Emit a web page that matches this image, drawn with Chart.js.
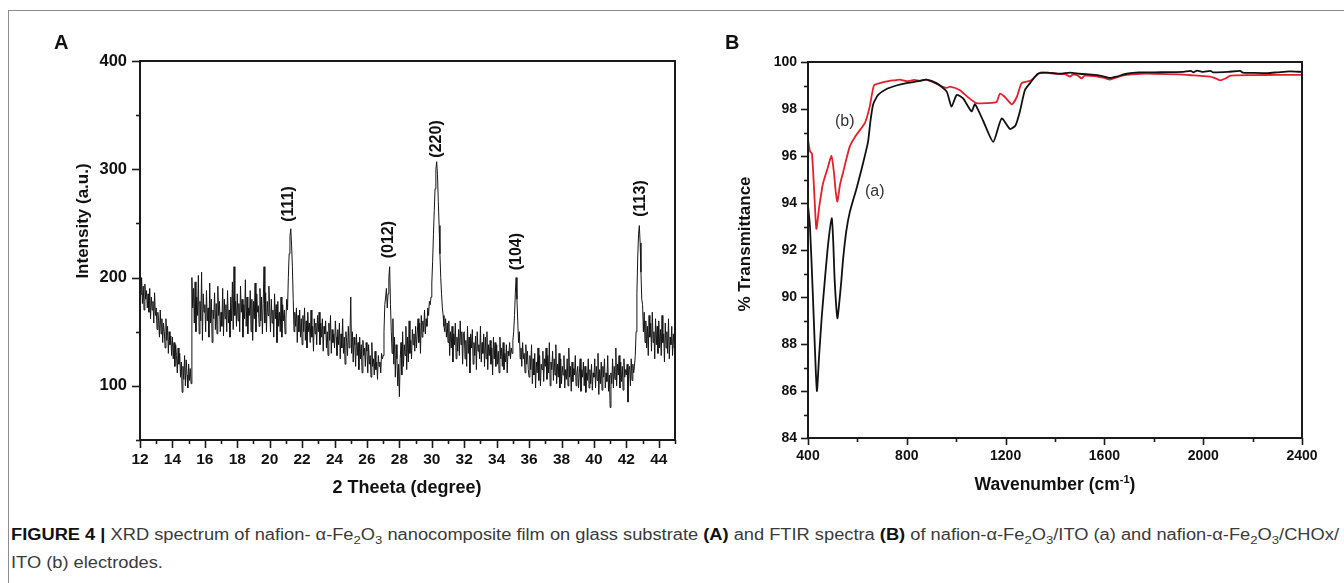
<!DOCTYPE html>
<html>
<head>
<meta charset="utf-8">
<script src="https://cdn.jsdelivr.net/npm/chart.js@4.4.0/dist/chart.umd.min.js"></script>
<style>
  html, body { margin: 0; padding: 0; background: #fff; }
  body { width: 1344px; height: 583px; position: relative; overflow: hidden; font-family: 'Liberation Sans', Arial, sans-serif; }
  .frame { position: absolute; left: 8px; top: 10px; width: 1400px; height: 600px; border-left: 1.5px solid #8c8c8c; border-top: 1.5px solid #8c8c8c; }
  canvas { position: absolute; top: 0; }
  #xrd { left: 0; }
  #ftir { left: 700px; }
  .lbl { position: absolute; font-weight: bold; color: #111; white-space: nowrap; }
  .rot { transform: translate(-50%, -50%) rotate(-90deg); }
  .ctr { transform: translate(-50%, -50%); }
  .caption { position: absolute; left: 11px; top: 521px; color: #3a3a3a; font-family: 'Liberation Sans', Arial, sans-serif; font-size: 16px; line-height: 28px; white-space: nowrap; transform-origin: 0 0; }
  .caption b { color: #111; }
  .caption sub { font-size: 0.72em; line-height: 0; }
</style>
</head>
<body>
<div class="frame"></div>
<canvas id="xrd" width="700" height="500"></canvas>
<canvas id="ftir" width="644" height="500"></canvas>

<div class="lbl" style="left:54px; top:31px; font-size:20px;">A</div>
<div class="lbl" style="left:725px; top:31px; font-size:20px;">B</div>

<div class="lbl rot" style="left:83px; top:221px; font-size:17px;">Intensity (a.u.)</div>
<div class="lbl ctr" style="left:407px; top:487px; font-size:18px;">2 Theeta (degree)</div>
<div class="lbl rot" style="left:745px; top:244px; font-size:17px;">% Transmittance</div>
<div class="lbl ctr" style="left:1055px; top:484px; font-size:17.5px;">Wavenumber (cm<sup style="font-size:11px;">-1</sup>)</div>

<div class="caption" id="caption">
  <span id="capLine1"><b>FIGURE 4 |</b> XRD spectrum of nafion- α-Fe<sub>2</sub>O<sub>3</sub> nanocomposite film on glass substrate <b>(A)</b> and FTIR spectra <b>(B)</b> of nafion-α-Fe<sub>2</sub>O<sub>3</sub>/ITO (a) and nafion-α-Fe<sub>2</sub>O<sub>3</sub>/CHOx/</span><br>
  ITO (b) electrodes.
</div>

<script>
// XRD pattern, 2θ from 12 to 45 in 0.05 degree steps (one row per degree)
var xrdStart = 12;
var xrdStep = 0.05;
var xrdIntensity = [
  198,184,200,176,192,170,194,180,188,172,185,168,190,162,182,170,178,158,186,165,
  172,152,168,160,145,170,148,162,140,158,150,135,162,142,155,130,150,138,146,128,
  145,125,140,118,138,128,112,135,120,130,108,122,94,118,106,128,100,124,110,98,
  120,105,116,102,200,172,190,158,196,150,182,165,202,148,178,160,205,142,185,168,
  175,150,188,160,172,145,195,158,180,140,170,162,186,152,176,148,192,165,178,150,
  168,155,190,146,180,162,175,150,188,158,170,145,182,160,196,152,210,165,178,155,
  185,160,176,150,192,168,180,145,175,162,198,155,182,148,172,165,188,150,180,142,
  178,162,195,150,185,168,174,155,190,160,182,148,176,210,158,186,150,178,165,192,
  172,150,180,158,170,145,185,162,175,140,178,155,168,150,182,145,175,160,170,148,
  162,180,170,200,222,238,245,230,210,180,150,168,155,172,140,165,150,170,145,162,
  138,165,150,172,142,160,135,168,150,158,140,170,145,155,132,162,148,158,138,165,
  150,168,138,158,145,162,132,155,148,160,135,150,128,158,142,165,130,152,140,148,
  135,160,145,128,152,138,158,125,148,135,162,130,145,120,150,140,128,155,135,145,
  182,130,150,122,145,138,118,148,128,140,115,145,125,138,112,142,128,135,118,140,
  132,112,138,120,128,108,140,118,125,110,132,115,122,106,128,118,122,112,130,125,
  128,150,175,182,190,172,185,200,210,175,150,130,162,120,145,108,138,125,100,120,
  90,125,140,110,150,118,138,128,155,115,145,122,160,130,142,125,152,138,148,132,
  155,135,148,162,140,158,130,165,145,160,150,170,148,162,155,172,165,178,175,182,
  195,215,240,262,282,300,307,295,270,248,222,200,185,172,165,155,150,162,145,158,
  140,160,128,150,135,155,122,148,138,158,125,145,132,152,128,160,138,150,120,148,
  150,125,142,118,155,130,145,112,148,135,152,120,140,128,146,115,150,132,138,125,
  155,122,140,130,148,118,145,125,150,115,138,128,142,120,135,110,145,125,140,118,
  138,120,132,112,145,125,135,118,140,115,130,122,138,112,132,128,140,125,135,130,
  142,150,165,185,200,180,160,140,150,125,135,118,140,125,130,112,138,120,132,115,
  108,128,115,138,102,125,110,130,98,122,112,135,105,128,100,120,115,132,104,125,
  118,135,106,128,112,140,100,122,115,132,105,125,110,138,102,120,108,130,98,125,
  102,118,110,128,98,115,106,125,100,135,108,118,95,122,104,116,110,128,100,112,
  118,98,112,125,95,115,108,122,100,118,94,112,105,125,98,115,102,120,96,112,
  108,125,98,118,105,130,92,115,102,122,96,118,108,125,98,112,104,128,95,110,
  80,112,102,125,98,118,106,135,100,120,110,128,98,122,104,118,96,125,108,115,
  110,120,85,115,118,100,125,105,120,112,118,128,150,185,218,240,248,232,205,180,
  175,150,168,140,160,135,155,128,165,145,158,132,168,140,150,125,162,138,155,130,
  160,135,152,128,165,140,148,122,158,135,150,130,162,125,145,138,155,128,148,135,
  142
];
var xrdPeakLabels = ['(111)', '(012)', '(220)', '(104)', '(113)'];
var xrdPeakX = [21.15, 27.33, 30.31, 35.25, 42.86];
var xrdPeakY = [268, 235, 328, 224, 273];

// FTIR, curve (a) nafion-Fe2O3/ITO
var ftirWaveA = [400, 408, 420, 428, 436, 445, 456, 468, 482, 496, 502, 508, 519, 527, 535, 542, 555, 569, 596, 616, 630, 643, 653, 664, 684, 718, 758, 799, 853, 880, 920, 961, 981, 1002, 1028, 1062, 1076, 1109, 1150, 1184, 1218, 1240, 1258, 1278, 1299, 1331, 1370, 1420, 1461, 1500, 1560, 1600, 1623, 1650, 1690, 1740, 1800, 1860, 1920, 1950, 1960, 1975, 2000, 2030, 2040, 2100, 2150, 2160, 2200, 2260, 2300, 2350, 2400];
var ftirTransA = [93.9, 93.0, 90.0, 87.8, 86.0, 87.5, 89.2, 90.7, 92.3, 93.35, 92.4, 90.7, 89.1, 89.8, 90.7, 91.6, 92.8, 93.6, 94.6, 95.4, 96.0, 96.6, 97.5, 98.2, 98.6, 98.85, 99.0, 99.1, 99.2, 99.25, 99.1, 98.75, 98.1, 98.6, 98.45, 97.9, 98.2, 97.5, 96.6, 97.6, 97.15, 97.3, 97.9, 98.8, 99.1, 99.5, 99.55, 99.5, 99.55, 99.5, 99.45, 99.38, 99.32, 99.38, 99.5, 99.56, 99.56, 99.57, 99.58, 99.62, 99.56, 99.63, 99.58, 99.62, 99.56, 99.58, 99.62, 99.55, 99.54, 99.53, 99.56, 99.6, 99.58];

// FTIR, curve (b) nafion-Fe2O3/CHOx/ITO
var ftirWaveB = [400, 408, 416, 425, 434, 445, 460, 480, 495, 505, 512, 519, 530, 542, 569, 596, 630, 650, 667, 691, 730, 750, 772, 800, 830, 853, 880, 934, 961, 975, 1015, 1048, 1082, 1123, 1163, 1177, 1198, 1225, 1245, 1265, 1300, 1340, 1400, 1440, 1461, 1470, 1490, 1508, 1520, 1560, 1600, 1623, 1650, 1690, 1750, 1800, 1900, 1960, 2000, 2040, 2069, 2090, 2110, 2200, 2300, 2400];
var ftirTransB = [96.7, 96.2, 96.1, 94.5, 92.9, 93.8, 94.8, 95.5, 96.0, 95.3, 94.5, 94.06, 94.8, 95.3, 96.4, 96.9, 97.4, 98.1, 99.0, 99.1, 99.2, 99.22, 99.25, 99.18, 99.24, 99.2, 99.25, 99.0, 98.9, 98.95, 98.8, 98.5, 98.25, 98.25, 98.3, 98.65, 98.5, 98.2, 98.5, 99.1, 99.2, 99.55, 99.5, 99.48, 99.38, 99.45, 99.44, 99.3, 99.42, 99.4, 99.32, 99.25, 99.35, 99.45, 99.5, 99.5, 99.47, 99.43, 99.4, 99.35, 99.22, 99.3, 99.42, 99.44, 99.45, 99.45];
var ftirCurveLabels = ['(a)', '(b)'];
var ftirLabelX = [670, 549];
var ftirLabelY = [94.48, 97.47];

var fontFamily = "'Liberation Sans', Arial, sans-serif";

// frame, major/minor tick marks and text notes placed in data units
var axisDeco = {
  id: 'axisDeco',
  afterDraw: function (chart, args, opts) {
    var ctx = chart.ctx;
    var a = chart.chartArea;
    var xs = chart.scales.x;
    var ys = chart.scales.y;
    ctx.save();
    ctx.strokeStyle = '#1a1a1a';
    ctx.lineWidth = 2;
    ctx.strokeRect(a.left, a.top, a.right - a.left, a.bottom - a.top);

    ctx.lineWidth = 1.6;
    xs.ticks.forEach(function (t) {
      var px = Math.round(xs.getPixelForValue(t.value)) + 0.5;
      var len = t.label !== '' ? opts.major : opts.minor;
      ctx.beginPath();
      ctx.moveTo(px, a.bottom);
      ctx.lineTo(px, a.bottom + len);
      ctx.stroke();
    });
    ys.ticks.forEach(function (t) {
      var py = Math.round(ys.getPixelForValue(t.value)) + 0.5;
      var len = t.label !== '' ? opts.major : opts.minor;
      ctx.beginPath();
      ctx.moveTo(a.left, py);
      ctx.lineTo(a.left - len, py);
      ctx.stroke();
    });

    (opts.notes || []).forEach(function (n) {
      ctx.save();
      ctx.translate(xs.getPixelForValue(n.x), ys.getPixelForValue(n.y));
      if (n.rotate) ctx.rotate(-Math.PI / 2);
      ctx.font = n.font;
      ctx.fillStyle = n.color;
      ctx.textAlign = 'center';
      ctx.textBaseline = 'middle';
      ctx.fillText(n.text, 0, 0);
      ctx.restore();
    });
    ctx.restore();
  }
};

var xrdPoints = xrdIntensity.map(function (v, i) {
  return { x: +(xrdStart + i * xrdStep).toFixed(2), y: v };
});

var xrdNotes = xrdPeakLabels.map(function (t, i) {
  return { text: t, x: xrdPeakX[i], y: xrdPeakY[i], rotate: true, font: 'bold 16px ' + fontFamily, color: '#111' };
});

var ftirNotes = ftirCurveLabels.map(function (t, i) {
  return { text: t, x: ftirLabelX[i], y: ftirLabelY[i], rotate: false, font: '16px ' + fontFamily, color: '#333' };
});

function zipPoints(xs, ys) {
  return xs.map(function (x, i) { return { x: x, y: ys[i] }; });
}

var chartXrd = new Chart(document.getElementById('xrd').getContext('2d'), {
  type: 'line',
  data: {
    datasets: [{
      data: xrdPoints,
      borderColor: '#151515',
      borderWidth: 1,
      pointRadius: 0,
      tension: 0
    }]
  },
  options: {
    responsive: false,
    animation: false,
    layout: { padding: { left: 0, right: 25, top: 61, bottom: 0 } },
    scales: {
      x: {
        type: 'linear',
        min: 12,
        max: 45,
        grid: { display: false, drawTicks: false },
        border: { display: false },
        afterFit: function (s) { s.height = 60; },
        ticks: {
          stepSize: 1,
          autoSkip: false,
          maxRotation: 0,
          padding: 10,
          color: '#111',
          font: { family: fontFamily, size: 15.5, weight: 'bold' },
          callback: function (v) { return v % 2 === 0 ? v : ''; }
        }
      },
      y: {
        min: 50,
        max: 400,
        grid: { display: false, drawTicks: false },
        border: { display: false },
        afterFit: function (s) { s.width = 140; },
        ticks: {
          stepSize: 50,
          padding: 13,
          color: '#111',
          font: { family: fontFamily, size: 16.5, weight: 'bold' },
          callback: function (v) { return v % 100 === 0 ? v : ''; }
        }
      }
    },
    plugins: {
      legend: { display: false },
      tooltip: { enabled: false },
      axisDeco: { major: 8, minor: 4, notes: xrdNotes }
    }
  },
  plugins: [axisDeco]
});

var chartFtir = new Chart(document.getElementById('ftir').getContext('2d'), {
  type: 'line',
  data: {
    datasets: [{
      label: '(a)',
      data: zipPoints(ftirWaveA, ftirTransA),
      borderColor: '#111111',
      borderWidth: 1.8,
      pointRadius: 0,
      tension: 0.2
    }, {
      label: '(b)',
      data: zipPoints(ftirWaveB, ftirTransB),
      borderColor: '#e3202b',
      borderWidth: 1.8,
      pointRadius: 0,
      tension: 0.2
    }]
  },
  options: {
    responsive: false,
    animation: false,
    layout: { padding: { left: 0, right: 42, top: 62, bottom: 0 } },
    scales: {
      x: {
        type: 'linear',
        min: 400,
        max: 2400,
        grid: { display: false, drawTicks: false },
        border: { display: false },
        afterFit: function (s) { s.height = 62; },
        ticks: {
          stepSize: 200,
          autoSkip: false,
          maxRotation: 0,
          padding: 10,
          color: '#111',
          font: { family: fontFamily, size: 14, weight: 'bold' },
          callback: function (v) { return v % 400 === 0 ? v : ''; }
        }
      },
      y: {
        min: 84,
        max: 100,
        grid: { display: false, drawTicks: false },
        border: { display: false },
        afterFit: function (s) { s.width = 108; },
        ticks: {
          stepSize: 1,
          autoSkip: false,
          padding: 11,
          color: '#111',
          font: { family: fontFamily, size: 14, weight: 'bold' },
          callback: function (v) { return v % 2 === 0 ? v : ''; }
        }
      }
    },
    plugins: {
      legend: { display: false },
      tooltip: { enabled: false },
      axisDeco: { major: 7, minor: 4, notes: ftirNotes }
    }
  },
  plugins: [axisDeco]
});

// squeeze the caption so its first line spans the figure width
var capLine = document.getElementById('capLine1');
var capBox = document.getElementById('caption');
var w = capLine.getBoundingClientRect().width;
if (w > 0) {
  capBox.style.transform = 'scaleX(' + (1328 / w).toFixed(4) + ')';
}
</script>
</body>
</html>
